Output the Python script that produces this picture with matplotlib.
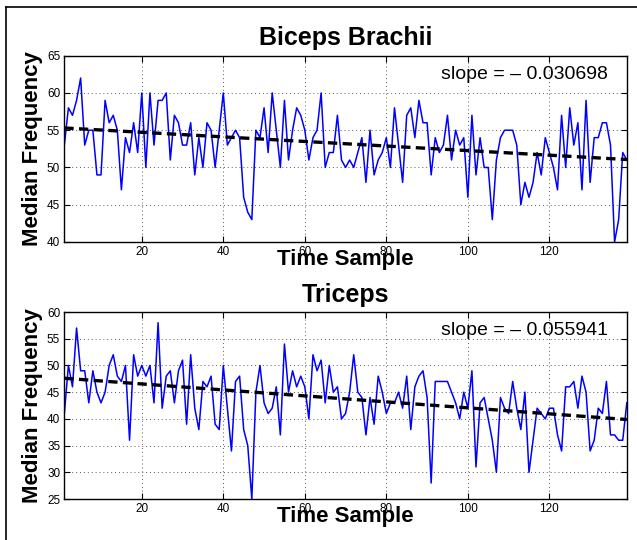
import matplotlib
matplotlib.use('Agg')
import matplotlib.pyplot as plt
from matplotlib.lines import Line2D
import numpy as np

plt.rcParams['font.family'] = ['Liberation Sans', 'DejaVu Sans']

# Data (median frequency per time sample)
biceps = [53, 58, 57, 59, 62, 53, 55, 55, 49, 49, 59, 56, 57, 55, 47, 54, 52, 56, 52, 60,
          50, 60, 53, 59, 59, 60, 51, 57, 56, 53, 53, 56, 49, 54, 50, 56, 55, 50, 55, 60,
          53, 54, 55, 54, 46, 44, 43, 55, 54, 58, 52, 60, 55, 50, 59, 51, 55, 58, 57, 55,
          51, 54, 55, 60, 50, 52, 52, 57, 51, 50, 51, 50, 52, 54, 48, 55, 49, 51, 52, 54,
          50, 58, 53, 48, 57, 58, 54, 59, 56, 56, 49, 54, 52, 53, 57, 51, 55, 53, 54, 46,
          57, 49, 54, 50, 50, 43, 51, 54, 55, 55, 55, 53, 45, 48, 46, 48, 52, 49, 54, 52,
          50, 47, 57, 50, 58, 53, 56, 47, 59, 48, 54, 54, 56, 56, 53, 40, 43, 52, 51]
triceps = [41, 50, 46, 57, 49, 49, 43, 49, 45, 43, 45, 50, 52, 48, 47, 50, 36, 52, 48, 50,
           48, 50, 43, 58, 42, 48, 49, 43, 49, 51, 39, 52, 42, 38, 47, 46, 48, 39, 38, 50,
           42, 34, 47, 48, 38, 35, 25, 45, 50, 43, 41, 42, 46, 37, 54, 45, 49, 46, 48, 46,
           40, 52, 49, 51, 43, 50, 45, 46, 40, 41, 45, 52, 45, 44, 37, 44, 39, 48, 45, 41,
           43, 43, 45, 42, 48, 38, 46, 48, 49, 44, 28, 47, 47, 47, 47, 45, 43, 40, 45, 42,
           49, 31, 43, 44, 40, 36, 30, 44, 42, 41, 47, 42, 38, 45, 30, 36, 42, 41, 40, 42,
           42, 37, 34, 46, 46, 47, 42, 48, 45, 34, 36, 42, 41, 47, 37, 37, 36, 36, 43]

titles = ['Biceps Brachii', 'Triceps']
slopes = [-0.030698, -0.055941]
start_vals = [55.3, 47.6]   # trend line value at first sample
ylims = [(40, 65), (25, 60)]

samples = np.arange(1, len(biceps) + 1)

fig = plt.figure(figsize=(6.37, 5.40), dpi=100)
ax1 = fig.add_axes([0.101, 0.5519, 0.883, 0.345])
ax2 = fig.add_axes([0.101, 0.0759, 0.883, 0.3463])

for ax, vals, title, slope, y0, ylim in zip([ax1, ax2], [biceps, triceps], titles,
                                             slopes, start_vals, ylims):
    ax.plot(samples, vals, color='#0000ff', lw=1.1)
    trend = y0 + slope * (samples - samples[0])
    ax.plot(samples, trend, color='black', lw=2.4, dashes=(2.8, 1.6))
    ax.set_xlim(1, len(vals))
    ax.set_ylim(*ylim)
    ax.set_xticks([20, 40, 60, 80, 100, 120])
    ax.set_yticks(np.arange(ylim[0], ylim[1] + 1, 5))
    ax.tick_params(direction='in', top=True, right=True, length=4, width=0.8,
                   labelsize=8.5, pad=3)
    ax.grid(True, linestyle=(0, (1, 3)), color='0.35', lw=0.7)
    for s in ax.spines.values():
        s.set_linewidth(1.0)
    ax.set_title(title, fontsize=18, fontweight='bold', pad=7.5)
    ax.set_xlabel('Time Sample', fontsize=16, fontweight='bold')
    ax.xaxis.set_label_coords(0.5, -0.04)
    ax.set_ylabel('Median Frequency', fontsize=16, fontweight='bold')
    ax.yaxis.set_label_coords(-0.038, 0.5)
    ax.text(0.966, 0.90, f'slope = \u2013 {abs(slope):.6f}', transform=ax.transAxes,
            ha='right', va='center', fontsize=14)

# outer frame
fx = 6 / 637
fy = 1 - 7 / 540
fig.add_artist(Line2D([fx, fx], [0, fy], transform=fig.transFigure, color='black', lw=1.2))
fig.add_artist(Line2D([fx, 1], [fy, fy], transform=fig.transFigure, color='black', lw=1.2))

fig.savefig('out.png', dpi=100)
